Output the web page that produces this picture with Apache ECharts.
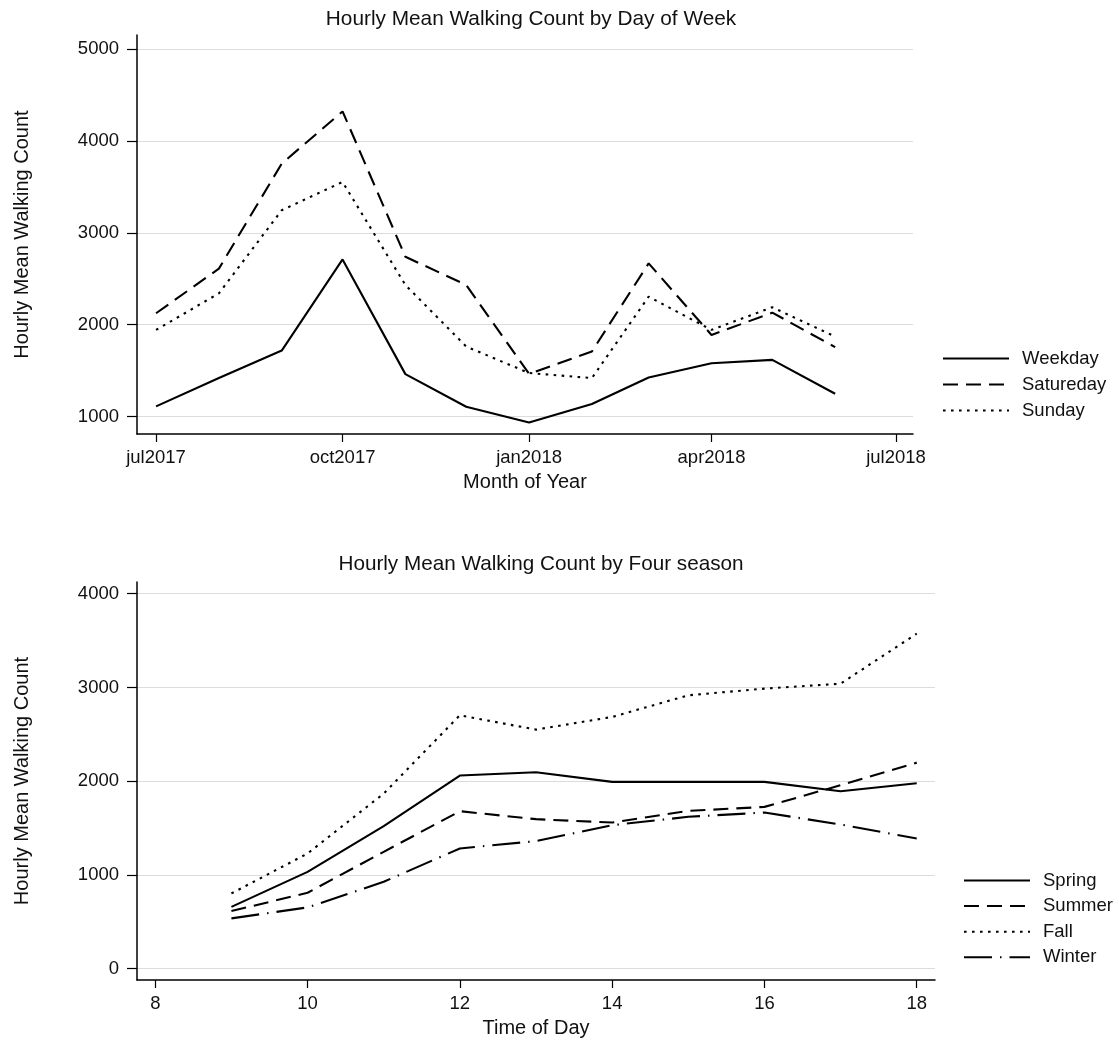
<!DOCTYPE html>
<html>
<head>
<meta charset="utf-8">
<title>Hourly Mean Walking Count</title>
<script src="https://cdn.jsdelivr.net/npm/echarts@6/dist/echarts.min.js"></script>
<style>
  html, body { margin: 0; padding: 0; background: #fff; }
  #chart { width: 1119px; height: 1041px; }
</style>
</head>
<body>
<div id="chart"></div>
<script>
// ---- Day-of-week panel (monthly means, Jul 2017 - Jun 2018) ----
const months = [
  [2017, 6], [2017, 7], [2017, 8], [2017, 9], [2017, 10], [2017, 11],
  [2018, 0], [2018, 1], [2018, 2], [2018, 3], [2018, 4], [2018, 5]
];
const weekday   = [1112, 1420, 1719, 2710, 1463, 1108, 938, 1138, 1426, 1582, 1618, 1250];
const saturday  = [2125, 2610, 3752, 4319, 2739, 2432, 1466, 1709, 2667, 1889, 2131, 1756];
const sunday    = [1944, 2341, 3245, 3552, 2432, 1763, 1475, 1420, 2305, 1944, 2190, 1871];
const monthTicks = [[2017, 6], [2017, 9], [2018, 0], [2018, 3], [2018, 6]];
const monthNames = ['jan','feb','mar','apr','may','jun','jul','aug','sep','oct','nov','dec'];
const countTicksTop = [1000, 2000, 3000, 4000, 5000];

// ---- Season panel (hour of day 9-18) ----
const hours  = [9, 10, 11, 12, 13, 14, 15, 16, 17, 18];
const spring = [660, 1033, 1520, 2060, 2096, 1993, 1993, 1993, 1893, 1978];
const summer = [615, 810, 1247, 1680, 1595, 1559, 1683, 1726, 1957, 2198];
const fall   = [803, 1229, 1868, 2703, 2550, 2685, 2916, 2987, 3040, 3573];
const winter = [537, 654, 927, 1283, 1361, 1531, 1620, 1666, 1538, 1389];
const hourTicks = [8, 10, 12, 14, 16, 18];
const countTicksBottom = [0, 1000, 2000, 3000, 4000];

const DAY = 86400000;
const ts = (ym) => new Date(ym[0], ym[1], 1).getTime();
const FONT = "'Liberation Sans', Arial, sans-serif";
const INK = '#111';

const solid   = 'solid';
const dashed  = [15, 8];
const dotted  = [2.6, 5.4];
const dashDot = [28, 8, 1.5, 8];

function lineSeries(name, data, type, xi) {
  return {
    name, type: 'line', xAxisIndex: xi, yAxisIndex: xi,
    data, symbol: 'none', showSymbol: false, silent: true,
    lineStyle: { color: '#000', width: 2.1, type },
    itemStyle: { color: '#000' },
    animation: false
  };
}

function axisBase(extra) {
  return Object.assign({
    axisLine: { show: true, onZero: false, lineStyle: { color: '#000', width: 1.5 } },
    nameTextStyle: { color: INK, fontSize: 20, fontFamily: FONT },
    splitLine: { show: false }
  }, extra);
}

const plain = (v) => String(v);
const tickStyle = (len, values) => ({ show: true, length: len, customValues: values, lineStyle: { color: '#000', width: 1.2 } });
const labelStyle = (margin, values, formatter) => ({
  color: INK, fontSize: 18.5, fontFamily: FONT, margin, customValues: values, formatter: formatter || plain
});

// Legend shows only the line pattern, no marker
const legendBase = {
  orient: 'vertical', itemWidth: 66, itemHeight: 14,
  itemStyle: { color: 'rgba(0,0,0,0)', borderWidth: 0 },
  textStyle: { color: INK, fontSize: 18.5, fontFamily: FONT, padding: [0, 0, 0, 8] }
};

const chart = echarts.init(document.getElementById('chart'), null, { renderer: 'canvas' });

const monthTickValues = monthTicks.map(ts);

chart.setOption({
  backgroundColor: '#fff',
  animation: false,
  title: [
    { text: 'Hourly Mean Walking Count by Day of Week', left: 526, top: 4, textAlign: 'center',
      textStyle: { fontSize: 20.8, fontWeight: 'normal', color: INK, fontFamily: FONT } },
    { text: 'Hourly Mean Walking Count by Four season', left: 536, top: 549, textAlign: 'center',
      textStyle: { fontSize: 20.7, fontWeight: 'normal', color: INK, fontFamily: FONT } }
  ],
  legend: [
    Object.assign({}, legendBase, { data: ['Weekday', 'Satureday', 'Sunday'], left: 937, top: 344, itemGap: 7 }),
    Object.assign({}, legendBase, { data: ['Spring', 'Summer', 'Fall', 'Winter'], left: 958, top: 866, itemGap: 6.6 })
  ],
  grid: [
    { left: 137, width: 776, top: 35, height: 399, containLabel: false },
    { left: 137, width: 798, top: 582, height: 398, containLabel: false }
  ],
  xAxis: [
    axisBase({
      gridIndex: 0, type: 'value',
      min: ts([2017, 6]) - 9.4 * DAY, max: ts([2018, 6]) + 8.4 * DAY,
      name: 'Month of Year', nameLocation: 'middle', nameGap: 38,
      axisTick: tickStyle(8, monthTickValues),
      axisLabel: labelStyle(14, monthTickValues, (v) => {
        const d = new Date(v); return monthNames[d.getMonth()] + d.getFullYear();
      })
    }),
    axisBase({
      gridIndex: 1, type: 'value', min: 7.76, max: 18.24,
      name: 'Time of Day', nameLocation: 'middle', nameGap: 38,
      axisTick: tickStyle(8, hourTicks),
      axisLabel: labelStyle(14, hourTicks)
    })
  ],
  yAxis: [
    axisBase({
      gridIndex: 0, type: 'value', min: 812, max: 5150,
      name: 'Hourly Mean Walking Count', nameLocation: 'middle', nameGap: 105,
      axisTick: tickStyle(10, countTicksTop),
      axisLabel: labelStyle(18, countTicksTop),
      splitLine: { show: true, lineStyle: { color: '#dcdcdc', width: 1 } }
    }),
    axisBase({
      gridIndex: 1, type: 'value', min: -120, max: 4124,
      name: 'Hourly Mean Walking Count', nameLocation: 'middle', nameGap: 105,
      axisTick: tickStyle(10, countTicksBottom),
      axisLabel: labelStyle(18, countTicksBottom),
      splitLine: { show: true, lineStyle: { color: '#dcdcdc', width: 1 } }
    })
  ],
  series: [
    lineSeries('Weekday',   months.map((m, i) => [ts(m), weekday[i]]),  solid,  0),
    lineSeries('Satureday', months.map((m, i) => [ts(m), saturday[i]]), dashed, 0),
    lineSeries('Sunday',    months.map((m, i) => [ts(m), sunday[i]]),   dotted, 0),
    lineSeries('Spring', hours.map((h, i) => [h, spring[i]]), solid,   1),
    lineSeries('Summer', hours.map((h, i) => [h, summer[i]]), dashed,  1),
    lineSeries('Fall',   hours.map((h, i) => [h, fall[i]]),   dotted,  1),
    lineSeries('Winter', hours.map((h, i) => [h, winter[i]]), dashDot, 1)
  ]
});
</script>
</body>
</html>
